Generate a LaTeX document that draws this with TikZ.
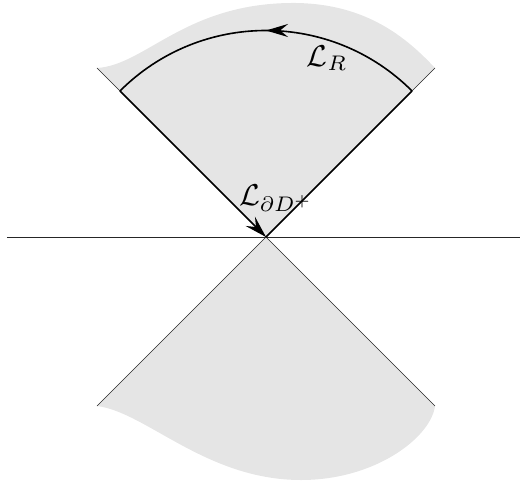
\documentclass[tikz,border=0pt]{standalone}
\usetikzlibrary{arrows.meta, decorations.markings}

\definecolor{conegray}{gray}{0.9}

\begin{document}
\begin{tikzpicture}[
  x=0.35cm, y=0.35cm,
  region/.style={fill=conegray, draw=none},
  edge/.style={draw=black!85, line width=0.6pt},
  bdry/.style={line width=1.6pt},
  tip/.style={-{Stealth[length=22pt, width=13pt, inset=8pt]}},
  midtip/.style={postaction={decorate}, decoration={markings,
      mark=at position #1 with {\arrow{Stealth[length=22pt, width=13pt, inset=8pt]}}}},
  lbl/.style={scale=3, inner sep=0pt}
]
  \useasboundingbox (-26.6,-24.8) rectangle (25.4,23.7);

  \coordinate (o) at (0,0);
  \coordinate (ul) at (-16.9,16.9);
  \coordinate (ur) at (16.9,16.9);
  \coordinate (ll) at (-16.9,-16.9);
  \coordinate (lr) at (16.9,-16.9);
  \coordinate (al) at (135:20.65);
  \coordinate (ar) at (45:20.65);
  \coordinate (hl) at (-25.9,0);
  \coordinate (hr) at (25.4,0);

  % shaded regions
  \fill[region] (o) -- (ul) .. controls (-12,17.2) and (-8,23.5) .. (3,23.4)
    .. controls (10,23.3) and (14,20) .. (ur) -- cycle;
  \fill[region] (o) -- (ll) .. controls (-12,-17.5) and (-6,-24.3) .. (3.5,-24.3)
    .. controls (11,-24.3) and (16.5,-20) .. (lr) -- cycle;

  % light cone and horizon
  \draw[edge] (ul) -- (o) -- (ur);
  \draw[edge] (ll) -- (o) -- (lr);
  \draw[edge] (hl) -- (hr);

  % boundary
  \draw[bdry, midtip=0.5] (ar) arc[start angle=45, end angle=135, radius=20.65];
  \draw[bdry] (ar) -- (o);
  \draw[bdry, tip] (al) -- (o);

  \node[lbl] (lR) at (6.1,17.9) {$\mathcal{L}_R$};
  \node[lbl] (lD) at (1.0,3.9) {$\mathcal{L}_{\partial D^+}$};
\end{tikzpicture}
\end{document}
